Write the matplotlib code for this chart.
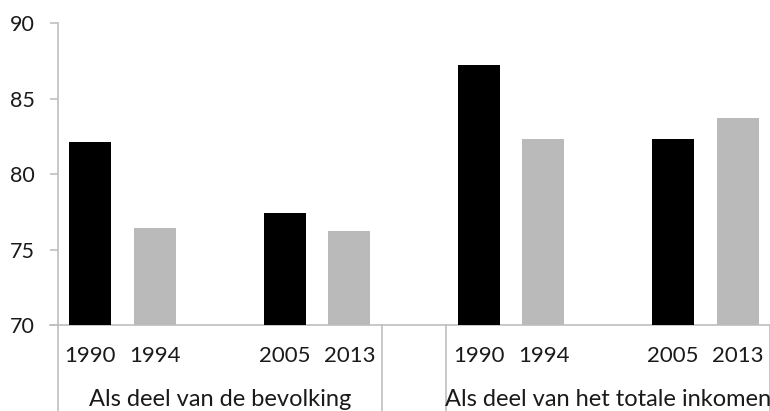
import numpy as np
import matplotlib
matplotlib.use('Agg')
import matplotlib.pyplot as plt

plt.rcParams['font.family'] = ['Lato', 'DejaVu Sans']

# Data
groups = ['Als deel van de bevolking', 'Als deel van het totale inkomen']
years = ['1990', '1994', '2005', '2013']
bevolking = [82.1, 76.4, 77.4, 76.2]
inkomen = [87.2, 82.3, 82.3, 83.7]
bar_colors = ['#000000', '#BABABA', '#000000', '#BABABA']

# category slots: 5 per group (middle one empty) and one empty slot between
slot_in_group = [0, 1, 3, 4]
group_start = [0, 6]
group_size = 5

axis_col = '#BFBFBF'

fig = plt.figure(figsize=(7.7, 4.11), dpi=100)
ax = fig.add_axes([58 / 770, 86 / 411, 712 / 770, 302 / 411])

for g, vals in enumerate([bevolking, inkomen]):
    x = np.array(slot_in_group) + group_start[g]
    ax.bar(x, np.array(vals) - 70, bottom=70, width=0.65, color=bar_colors,
           zorder=3)
    for xi, yr in zip(x, years):
        ax.text(xi, -37 / 302, yr, transform=ax.get_xaxis_transform(),
                ha='center', va='baseline', fontsize=16, color='#1a1a1a')
    centre = group_start[g] + (group_size - 1) / 2
    ax.text(centre, -81 / 302, groups[g], transform=ax.get_xaxis_transform(),
            ha='center', va='baseline', fontsize=17, color='#1a1a1a')

ax.set_xlim(-0.5, 10.5)
ax.set_ylim(70, 90)
ax.set_yticks([70, 75, 80, 85, 90])
ax.set_xticks([])

for s in ['top', 'right']:
    ax.spines[s].set_visible(False)
ax.spines['left'].set_color(axis_col)
ax.spines['bottom'].set_color(axis_col)
ax.spines['left'].set_linewidth(1.2)
ax.spines['bottom'].set_linewidth(1.2)
ax.tick_params(axis='y', length=6, width=1.2, color=axis_col, pad=11,
               labelsize=15.5, labelcolor='#1a1a1a')

# separators of the category axis, going below the plot
for xs in [-0.5, 4.5, 5.5, 10.5]:
    ax.plot([xs, xs], [0, -0.4], transform=ax.get_xaxis_transform(),
            color=axis_col, lw=1.2, clip_on=False)
# bottom spine also reaches into the tick area on the left
ax.plot([-8 / 712 * 11 - 0.5, -0.5], [0, 0], transform=ax.get_xaxis_transform(),
        color=axis_col, lw=1.2, clip_on=False)

plt.savefig('out.png', dpi=100)
